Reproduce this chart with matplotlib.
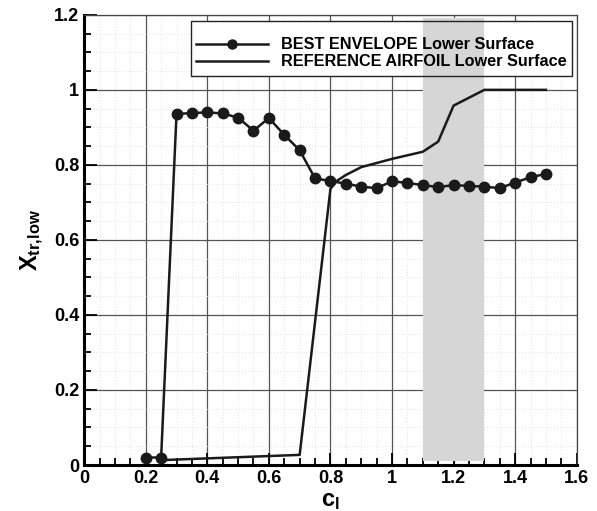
import matplotlib
matplotlib.use('Agg')
import matplotlib.pyplot as plt
import matplotlib.patches as mpatches
from matplotlib.lines import Line2D
from matplotlib.ticker import MultipleLocator

plt.rcParams.update({'font.family': 'Liberation Sans', 'font.weight': 'bold',
                     'mathtext.fontset': 'custom', 'mathtext.rm': 'Liberation Sans:bold',
                     'mathtext.bf': 'Liberation Sans:bold', 'mathtext.it': 'Liberation Sans:bold'})

# best envelope, lower surface
cl_best = [0.2, 0.25, 0.3, 0.35, 0.4, 0.45, 0.5, 0.55, 0.6, 0.65, 0.7, 0.75, 0.8, 0.85,
           0.9, 0.95, 1.0, 1.05, 1.1, 1.15, 1.2, 1.25, 1.3, 1.35, 1.4, 1.45, 1.5]
xtr_best = [0.02, 0.02, 0.936, 0.938, 0.94, 0.937, 0.926, 0.891, 0.925, 0.88, 0.839, 0.764, 0.757, 0.75,
            0.742, 0.738, 0.756, 0.752, 0.746, 0.741, 0.746, 0.744, 0.742, 0.738, 0.753, 0.767, 0.776]
# reference airfoil, lower surface
cl_ref = [0.25, 0.7, 0.8, 0.82, 0.85, 0.9, 1.0, 1.1, 1.15, 1.2, 1.3, 1.5]
xtr_ref = [0.013, 0.027, 0.736, 0.757, 0.773, 0.794, 0.816, 0.835, 0.862, 0.958, 1.0, 1.0]
# shaded design range
band = (1.1, 1.3)

fig = plt.figure(figsize=(5.97, 5.11), dpi=100)
ax = fig.add_axes([0.141, 0.09, 0.825, 0.881])
ax.set_xlim(0, 1.6); ax.set_ylim(0, 1.2)
ax.xaxis.set_major_locator(MultipleLocator(0.2)); ax.xaxis.set_minor_locator(MultipleLocator(0.05))
ax.yaxis.set_major_locator(MultipleLocator(0.2)); ax.yaxis.set_minor_locator(MultipleLocator(0.05))
ax.set_axisbelow(True)
ax.grid(which='major', color='#555555', lw=0.9)
ax.grid(which='minor', color='#d8d8d8', lw=0.6, ls=(0, (1, 2.5)))
ax.xaxis.set_major_formatter(plt.FuncFormatter(lambda v, p: f'{v:g}'))
ax.yaxis.set_major_formatter(plt.FuncFormatter(lambda v, p: f'{v:g}'))
ax.tick_params(which='both', direction='in', top=False, right=False, labelsize=13, width=1.3)
ax.tick_params(which='major', length=9)
ax.tick_params(which='minor', length=5)
for s in ['left', 'bottom']:
    ax.spines[s].set_linewidth(2.2)
for s in ['top', 'right']:
    ax.spines[s].set_linewidth(0.9); ax.spines[s].set_color('#444444')

# legend box (white) drawn below the shaded band
lx0, ly0, lx1, ly1 = 0.217, 0.864, 0.99, 0.987
ax.add_patch(mpatches.Rectangle((lx0, ly0), lx1 - lx0, ly1 - ly0, transform=ax.transAxes,
                                facecolor='white', edgecolor='none', zorder=0.8))
ax.axvspan(band[0], band[1], ymin=0.01, ymax=0.993, color='#d6d6d6', lw=0, zorder=0.9)
ax.add_patch(mpatches.Rectangle((lx0, ly0), lx1 - lx0, ly1 - ly0, transform=ax.transAxes,
                                facecolor='none', edgecolor='#222222', lw=1.0, zorder=4))

ax.plot(cl_ref, xtr_ref, color='#1a1a1a', lw=1.8, zorder=2)
ax.plot(cl_best, xtr_best, color='#1a1a1a', lw=1.8, marker='o', ms=7.5, zorder=3)

handles = [Line2D([], [], color='#1a1a1a', lw=1.8, marker='o', ms=6.5),
           Line2D([], [], color='#1a1a1a', lw=1.8)]
ax.legend(handles, ['BEST ENVELOPE Lower Surface', 'REFERENCE AIRFOIL Lower Surface'],
          loc='center', bbox_to_anchor=(lx0, ly0 - 0.011, lx1 - lx0, ly1 - ly0), frameon=False,
          fontsize=11.7, handlelength=4.4, labelspacing=0.12, handletextpad=0.8, borderaxespad=0)

ax.set_xlabel(r'$\mathbf{c_l}$', fontsize=17, labelpad=2)
ax.set_ylabel(r'$\mathbf{X_{tr{,}low}}$', fontsize=17, labelpad=6)

plt.savefig('out.png', dpi=100)
